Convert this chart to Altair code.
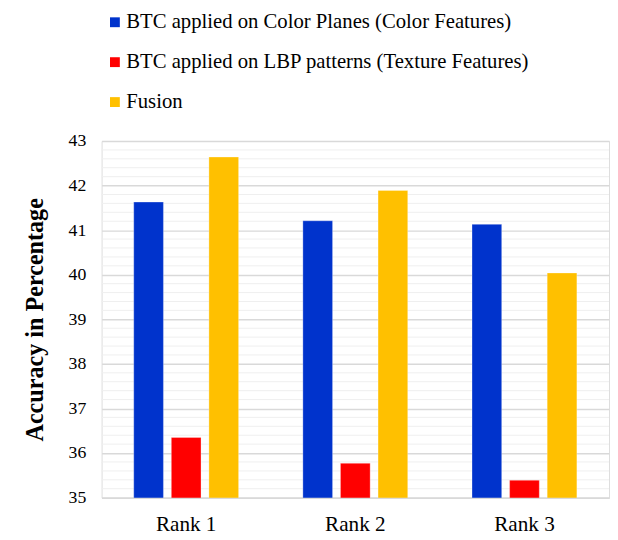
import altair as alt
import pandas as pd

ranks = ["Rank 1", "Rank 2", "Rank 3"]
series = [
    "BTC applied on Color Planes (Color Features)",
    "BTC applied on LBP patterns (Texture Features)",
    "Fusion",
]
color_vals = [41.63, 41.21, 41.13]
texture_vals = [36.35, 35.77, 35.39]
fusion_vals = [42.64, 41.89, 40.04]
colors = ["#0033CC", "#FF0000", "#FFC000"]
minor_ticks = [round(35 + 0.2 * i, 1) for i in range(41) if (i % 5) != 0]

rows = []
for s, vals in zip(series, [color_vals, texture_vals, fusion_vals]):
    for r, v in zip(ranks, vals):
        rows.append({"Rank": r, "Series": s, "Value": v})
df = pd.DataFrame(rows)
grid_df = pd.DataFrame({"g": minor_ticks})

FONT = "serif"
yscale = alt.Scale(domain=[35, 43], nice=False, zero=False)

yaxis = alt.Axis(title="Accuracy in Percentage", values=list(range(35, 44)),
                 ticks=False, domain=False, grid=True,
                 gridColor="#d9d9d9", gridWidth=1.5,
                 labelPadding=16, labelFont=FONT, labelFontSize=18,
                 labelColor="#000000",
                 titleFont=FONT, titleFontWeight="bold", titleFontSize=24.5,
                 titleColor="#000000", titlePadding=21)

minor = alt.Chart(grid_df).mark_rule(color="#efefef", strokeWidth=1).encode(
    y=alt.Y("g:Q", scale=yscale, axis=yaxis)
)

bars = alt.Chart(df).mark_bar(clip=True, stroke="white", strokeWidth=0.5, strokeOpacity=0.6).encode(
    x=alt.X("Rank:N", sort=ranks,
            scale=alt.Scale(paddingInner=0.38, paddingOuter=0.19),
            axis=alt.Axis(title=None, labelAngle=0, ticks=False, domain=True,
                          domainColor="#d9d9d9", domainWidth=1.5,
                          labelPadding=16, labelFont=FONT, labelFontSize=21.5,
                          labelColor="#000000")),
    xOffset=alt.XOffset("Series:N", sort=series,
                        scale=alt.Scale(paddingInner=0.21)),
    y=alt.Y("Value:Q", scale=yscale, axis=yaxis),
    color=alt.Color("Series:N", sort=series,
                    scale=alt.Scale(domain=series, range=colors),
                    legend=alt.Legend(title=None, orient="none", legendX=3, legendY=-131,
                                      direction="vertical", symbolType="square",
                                      symbolSize=100, symbolStrokeWidth=0,
                                      rowPadding=18.5, padding=0, labelOffset=1,
                                      labelFont=FONT, labelFontSize=21,
                                      labelColor="#000000",
                                      labelLimit=600, symbolOffset=0)),
)

chart = alt.layer(minor, bars).properties(
    width=515, height=362,
    padding={"left": 15, "top": 0, "right": 0, "bottom": 0},
).configure_view(stroke=None).configure(
    background="white", font=FONT
).configure_axis(
    labelFont=FONT, titleFont=FONT
).configure_legend(
    labelFont=FONT
)

chart.save("out.html", embed_options={"renderer": "svg", "actions": False})
